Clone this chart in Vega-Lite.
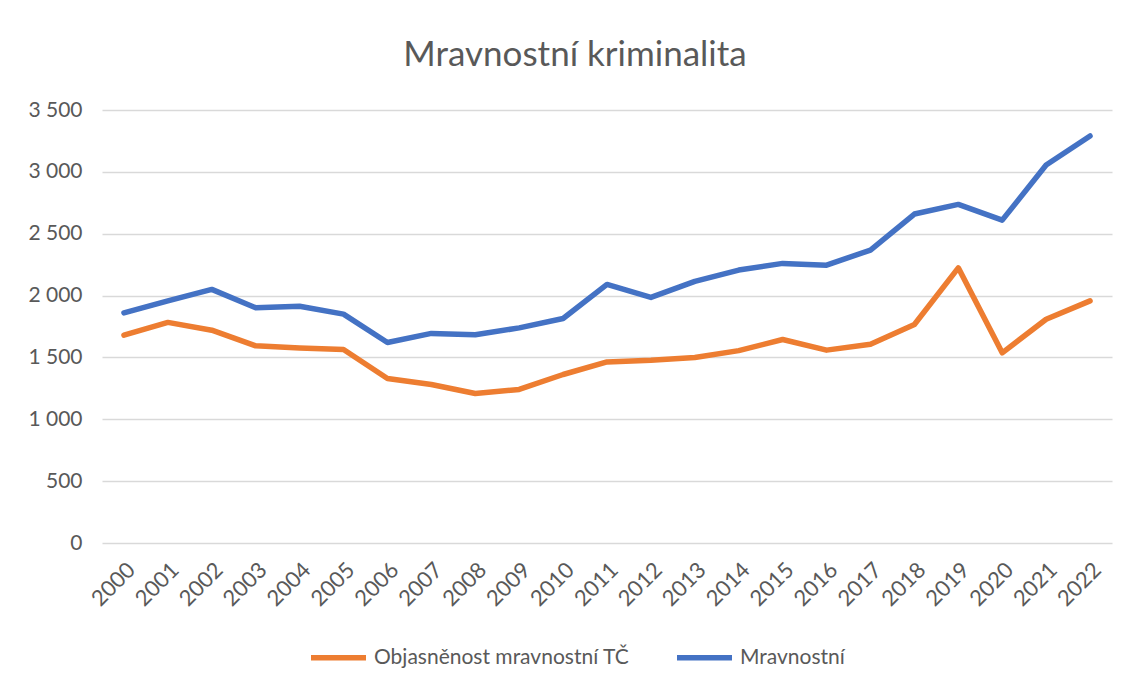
{
  "$schema": "https://vega.github.io/schema/vega-lite/v6.json",
  "autosize": {"type": "none"},
  "padding": {"left": 102, "top": 110, "right": 19, "bottom": 141},
  "width": 1010,
  "height": 433,
  "background": "white",
  "title": {
    "text": "Mravnostní kriminalita",
    "font": "Lato",
    "fontSize": 35,
    "fontWeight": "normal",
    "color": "#595959",
    "anchor": "middle",
    "baseline": "alphabetic",
    "offset": -2,
    "dx": -32
  },
  "data": {
    "values": [
      {"rok": "2000", "rada": "Mravnostní", "pocet": 1860},
      {"rok": "2001", "rada": "Mravnostní", "pocet": 1957},
      {"rok": "2002", "rada": "Mravnostní", "pocet": 2050},
      {"rok": "2003", "rada": "Mravnostní", "pocet": 1901},
      {"rok": "2004", "rada": "Mravnostní", "pocet": 1914},
      {"rok": "2005", "rada": "Mravnostní", "pocet": 1850},
      {"rok": "2006", "rada": "Mravnostní", "pocet": 1621},
      {"rok": "2007", "rada": "Mravnostní", "pocet": 1694},
      {"rok": "2008", "rada": "Mravnostní", "pocet": 1684},
      {"rok": "2009", "rada": "Mravnostní", "pocet": 1739},
      {"rok": "2010", "rada": "Mravnostní", "pocet": 1815},
      {"rok": "2011", "rada": "Mravnostní", "pocet": 2090},
      {"rok": "2012", "rada": "Mravnostní", "pocet": 1985},
      {"rok": "2013", "rada": "Mravnostní", "pocet": 2115},
      {"rok": "2014", "rada": "Mravnostní", "pocet": 2206},
      {"rok": "2015", "rada": "Mravnostní", "pocet": 2260},
      {"rok": "2016", "rada": "Mravnostní", "pocet": 2246},
      {"rok": "2017", "rada": "Mravnostní", "pocet": 2368},
      {"rok": "2018", "rada": "Mravnostní", "pocet": 2659},
      {"rok": "2019", "rada": "Mravnostní", "pocet": 2737},
      {"rok": "2020", "rada": "Mravnostní", "pocet": 2610},
      {"rok": "2021", "rada": "Mravnostní", "pocet": 3055},
      {"rok": "2022", "rada": "Mravnostní", "pocet": 3290},
      {"rok": "2000", "rada": "Objasněnost mravnostní TČ", "pocet": 1680},
      {"rok": "2001", "rada": "Objasněnost mravnostní TČ", "pocet": 1783},
      {"rok": "2002", "rada": "Objasněnost mravnostní TČ", "pocet": 1720},
      {"rok": "2003", "rada": "Objasněnost mravnostní TČ", "pocet": 1594},
      {"rok": "2004", "rada": "Objasněnost mravnostní TČ", "pocet": 1577},
      {"rok": "2005", "rada": "Objasněnost mravnostní TČ", "pocet": 1564},
      {"rok": "2006", "rada": "Objasněnost mravnostní TČ", "pocet": 1330},
      {"rok": "2007", "rada": "Objasněnost mravnostní TČ", "pocet": 1281},
      {"rok": "2008", "rada": "Objasněnost mravnostní TČ", "pocet": 1208},
      {"rok": "2009", "rada": "Objasněnost mravnostní TČ", "pocet": 1241},
      {"rok": "2010", "rada": "Objasněnost mravnostní TČ", "pocet": 1362},
      {"rok": "2011", "rada": "Objasněnost mravnostní TČ", "pocet": 1464},
      {"rok": "2012", "rada": "Objasněnost mravnostní TČ", "pocet": 1478},
      {"rok": "2013", "rada": "Objasněnost mravnostní TČ", "pocet": 1500},
      {"rok": "2014", "rada": "Objasněnost mravnostní TČ", "pocet": 1555},
      {"rok": "2015", "rada": "Objasněnost mravnostní TČ", "pocet": 1645},
      {"rok": "2016", "rada": "Objasněnost mravnostní TČ", "pocet": 1559},
      {"rok": "2017", "rada": "Objasněnost mravnostní TČ", "pocet": 1607},
      {"rok": "2018", "rada": "Objasněnost mravnostní TČ", "pocet": 1766},
      {"rok": "2019", "rada": "Objasněnost mravnostní TČ", "pocet": 2224},
      {"rok": "2020", "rada": "Objasněnost mravnostní TČ", "pocet": 1537},
      {"rok": "2021", "rada": "Objasněnost mravnostní TČ", "pocet": 1809},
      {"rok": "2022", "rada": "Objasněnost mravnostní TČ", "pocet": 1957}
    ]
  },
  "mark": {"type": "line", "strokeWidth": 5.5, "strokeCap": "round", "strokeJoin": "round"},
  "encoding": {
    "x": {
      "field": "rok",
      "type": "ordinal",
      "scale": {"type": "point", "padding": 0.5},
      "axis": {
        "title": null,
        "labelAngle": -45,
        "labelFont": "Lato",
        "labelFontSize": 22,
        "labelColor": "#595959",
        "labelPadding": 16,
        "ticks": false,
        "domain": false,
        "grid": false
      }
    },
    "y": {
      "field": "pocet",
      "type": "quantitative",
      "scale": {"domain": [0, 3500], "nice": false},
      "axis": {
        "title": null,
        "values": [0, 500, 1000, 1500, 2000, 2500, 3000, 3500],
        "labelExpr": "replace(format(datum.value, ','), ',', ' ')",
        "labelFont": "Lato",
        "labelFontSize": 21,
        "labelColor": "#595959",
        "labelPadding": 20,
        "ticks": false,
        "domain": false,
        "grid": true,
        "gridColor": "#d9d9d9",
        "gridWidth": 1.5
      }
    },
    "color": {
      "field": "rada",
      "type": "nominal",
      "scale": {
        "domain": ["Objasněnost mravnostní TČ", "Mravnostní"],
        "range": ["#ED7D31", "#4472C4"]
      },
      "legend": {
        "title": null,
        "orient": "none",
        "direction": "horizontal",
        "legendX": 206,
        "legendY": 517,
        "symbolType": "stroke",
        "symbolSize": 3025,
        "symbolStrokeWidth": 5.5,
        "labelFont": "Lato",
        "labelFontSize": 21,
        "labelColor": "#595959",
        "labelLimit": 0,
        "labelOffset": 5,
        "columnPadding": 36
      }
    }
  },
  "config": {
    "view": {"stroke": null}
  }
}
